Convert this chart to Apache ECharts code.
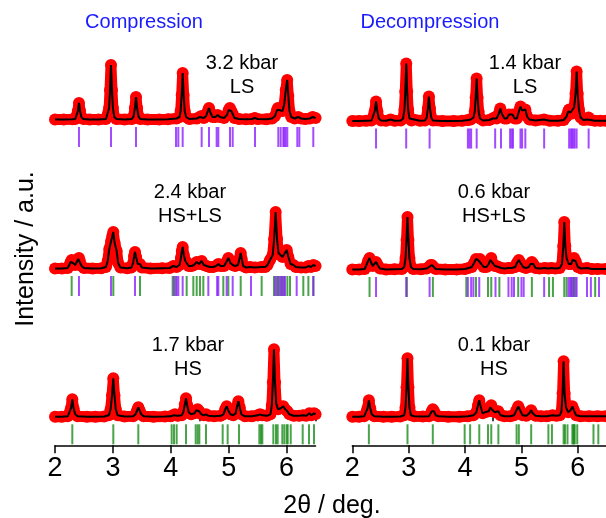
<!DOCTYPE html>
<html>
<head>
<meta charset="utf-8">
<script src="https://cdn.jsdelivr.net/npm/echarts@6/dist/echarts.min.js"></script>
<style>
  html, body { margin: 0; padding: 0; background: #fff; }
  #chart { width: 606px; height: 518px; }
</style>
</head>
<body>
<div id="chart"></div>
<script>
// 2theta (deg) / intensity (arb. units above baseline)
var cmp32 = [[2.00,0.5],[2.15,0.5],[2.30,0.8],[2.35,1],[2.375,3],[2.395,9],[2.414,17],[2.433,9],[2.455,3],[2.49,1],
  [2.60,0.5],[2.75,0.6],[2.88,1],[2.91,3],[2.935,12],[2.95,30],[2.967,55],[2.984,30],[3.00,12],[3.025,3],[3.06,1],
  [3.20,0.6],[3.33,1],[3.36,4],[3.38,12],[3.399,23],[3.418,12],[3.44,4],[3.47,1],
  [3.60,0.5],[3.80,0.6],[3.95,0.8],[4.10,1.5],[4.15,3],[4.17,9],[4.188,25],[4.205,47],[4.222,25],[4.24,9],[4.265,3],[4.32,1],
  [4.45,1.5],[4.50,3],[4.53,4],[4.57,2],[4.61,4],[4.64,9],[4.66,12],[4.68,8],[4.72,3],[4.77,3],[4.81,5],[4.85,3],[4.92,2],
  [4.97,5],[5.00,10],[5.02,12],[5.045,9],[5.07,6],[5.10,2],[5.18,1],[5.30,0.8],[5.40,1],[5.45,2],[5.50,1],[5.65,0.8],
  [5.75,1.5],[5.80,4],[5.835,10],[5.85,12],[5.87,10],[5.90,9],[5.93,9],[5.96,16],[5.985,30],[6.01,40],[6.03,24],[6.05,9],
  [6.08,3],[6.14,1.5],[6.20,3],[6.25,1.5],[6.32,1],[6.40,1.5],[6.45,3],[6.5,2]];
var cmp24 = [[2.00,0.5],[2.12,0.5],[2.22,1],[2.25,3],[2.27,7],[2.288,9],[2.31,6],[2.35,4],[2.38,6],[2.40,10],[2.414,11],
  [2.43,8],[2.46,3],[2.50,1],[2.65,0.5],[2.80,0.8],[2.88,2],[2.91,8],[2.938,20],[2.97,28],[2.99,33],[3.007,37],[3.03,26],
  [3.065,18],[3.09,6],[3.13,1.5],[3.25,0.8],[3.32,1.5],[3.35,6],[3.366,13],[3.382,17],[3.40,12],[3.43,5],[3.468,5],[3.50,1.5],
  [3.65,0.5],[3.85,0.8],[3.98,1],[4.043,3],[4.10,2],[4.15,4],[4.175,11],[4.19,18],[4.205,22],[4.225,14],[4.25,8],[4.274,7],
  [4.31,3],[4.36,3],[4.40,4],[4.447,7],[4.49,5],[4.533,8],[4.57,4],[4.62,3],[4.67,2],[4.73,2],[4.78,3],[4.821,5],[4.86,3],
  [4.92,3],[4.96,7],[4.994,11],[5.03,6],[5.069,4],[5.11,3],[5.16,4],[5.185,10],[5.207,16],[5.225,10],[5.25,3],[5.30,1.5],
  [5.367,2],[5.45,1.5],[5.569,2],[5.63,2],[5.67,4],[5.713,9],[5.76,14],[5.785,30],[5.811,57],[5.835,30],[5.86,16],[5.886,14],
  [5.93,12],[5.97,16],[6.002,19],[6.03,12],[6.07,5],[6.117,4],[6.16,2],[6.25,1.5],[6.33,1.5],[6.376,3],[6.42,2],[6.462,4],[6.5,3]];
var cmp17 = [[2.00,0.5],[2.12,0.5],[2.22,1],[2.25,3],[2.275,9],[2.299,18],[2.32,9],[2.35,3],[2.39,1],[2.55,0.5],[2.70,0.5],
  [2.85,0.8],[2.93,2],[2.96,8],[2.985,22],[3.007,39],[3.027,22],[3.05,8],[3.08,2],[3.20,0.8],[3.35,1],[3.39,3],[3.418,7],
  [3.439,10],[3.46,7],[3.49,3],[3.53,1],[3.70,0.5],[3.90,0.8],[4.00,1],[4.04,2],[4.072,3],[4.12,1.5],[4.19,2],[4.22,6],
  [4.243,13],[4.263,19],[4.283,12],[4.31,5],[4.35,3],[4.41,4],[4.44,7],[4.464,8],[4.49,6],[4.53,3],[4.57,2],[4.608,3],
  [4.65,1.5],[4.75,1],[4.86,1.5],[4.91,3],[4.94,8],[4.965,11],[4.99,7],[5.03,3],[5.08,2],[5.12,4],[5.145,11],[5.167,16],
  [5.19,10],[5.22,3],[5.28,1],[5.40,1],[5.50,2],[5.541,3],[5.58,2],[5.66,1.5],[5.72,3],[5.745,12],[5.763,35],[5.782,68],
  [5.80,35],[5.82,14],[5.85,8],[5.90,9],[5.943,11],[5.975,8],[6.013,6],[6.05,3],[6.12,1.5],[6.22,1.5],[6.289,2],[6.34,1.5],
  [6.393,4],[6.43,2],[6.474,4],[6.5,3]];
var dec14 = [[2.00,0.5],[2.12,0.5],[2.25,0.8],[2.34,1],[2.37,3],[2.397,10],[2.421,20],[2.445,10],[2.47,3],[2.51,1],[2.60,0.8],
  [2.68,2],[2.75,0.8],[2.86,1],[2.90,3],[2.925,12],[2.94,30],[2.957,58],[2.974,30],[2.99,12],[3.015,3],[3.05,1],[3.20,0.8],
  [3.29,1],[3.32,4],[3.34,13],[3.359,25],[3.378,13],[3.40,4],[3.43,1],[3.60,0.5],[3.80,0.6],[3.95,0.8],[4.05,1.5],[4.10,2],
  [4.15,4],[4.172,10],[4.188,24],[4.205,43],[4.222,24],[4.24,10],[4.265,3],[4.32,1],[4.43,1.5],[4.49,3],[4.52,4],[4.56,3],
  [4.60,8],[4.625,13],[4.65,8],[4.70,3],[4.74,3],[4.78,7],[4.81,5],[4.84,7],[4.88,3],[4.92,3],[4.955,10],[4.983,15],[5.01,11],
  [5.04,10],[5.069,12],[5.10,5],[5.14,2],[5.25,1],[5.40,2],[5.50,0.8],[5.65,0.8],[5.75,1.5],[5.80,5],[5.83,10],[5.846,12],
  [5.87,9],[5.90,8],[5.935,14],[5.96,28],[5.979,50],[5.997,28],[6.02,12],[6.05,4],[6.10,1.5],[6.16,2],[6.19,4],[6.23,1.5],
  [6.30,0.8],[6.40,0.8],[6.5,0.8]];
var dec06 = [[2.00,0.5],[2.12,0.5],[2.22,1],[2.25,3],[2.28,9],[2.306,12],[2.33,8],[2.36,4],[2.39,6],[2.421,8],[2.45,5],
  [2.49,1.5],[2.60,0.5],[2.75,0.8],[2.88,1],[2.92,3],[2.945,12],[2.962,30],[2.979,53],[2.996,30],[3.013,12],[3.04,3],[3.08,1],
  [3.22,0.8],[3.32,1.5],[3.36,3],[3.39,5],[3.411,5],[3.44,3],[3.48,1],[3.65,0.5],[3.85,0.6],[4.00,1],[4.06,2],[4.12,3],
  [4.16,7],[4.194,11],[4.23,10],[4.263,11],[4.29,6],[4.33,3],[4.38,3],[4.42,6],[4.445,10],[4.465,12],[4.49,7],[4.53,4],
  [4.56,4],[4.597,3],[4.64,2],[4.70,1.5],[4.77,2],[4.83,2],[4.89,3],[4.92,7],[4.954,10],[4.985,7],[5.03,3],[5.08,2],[5.13,3],
  [5.16,6],[5.185,8],[5.21,6],[5.25,2],[5.32,1.5],[5.415,2],[5.48,1.5],[5.53,2],[5.60,1.5],[5.68,2],[5.72,6],[5.742,24],
  [5.76,48],[5.778,24],[5.80,12],[5.84,6],[5.88,6],[5.91,10],[5.933,12],[5.96,9],[6.00,3],[6.06,1.5],[6.163,2],[6.25,1],
  [6.35,1],[6.5,1]];
var dec01 = [[2.00,0.5],[2.12,0.5],[2.21,1],[2.245,3],[2.27,9],[2.294,17],[2.318,9],[2.345,3],[2.39,1],[2.55,0.5],[2.70,0.5],
  [2.85,0.8],[2.92,2],[2.945,10],[2.962,30],[2.979,59],[2.996,30],[3.013,10],[3.04,2],[3.10,1],[3.25,0.8],[3.36,1],[3.39,3],
  [3.41,6],[3.428,8],[3.45,6],[3.48,2],[3.53,1],[3.70,0.5],[3.90,0.6],[4.05,1],[4.15,2],[4.20,5],[4.23,12],[4.252,17],
  [4.275,11],[4.31,4],[4.35,5],[4.38,6],[4.42,6],[4.445,10],[4.465,12],[4.49,7],[4.53,5],[4.56,6],[4.59,6],[4.63,2],[4.70,1],
  [4.80,1],[4.87,2],[4.91,7],[4.943,11],[4.975,7],[5.02,2],[5.09,1.5],[5.14,4],[5.173,7],[5.20,4],[5.25,1.5],[5.35,1],
  [5.45,1],[5.55,2],[5.62,1.5],[5.68,2],[5.71,6],[5.73,24],[5.748,56],[5.766,24],[5.79,10],[5.83,5],[5.87,7],[5.903,11],
  [5.93,7],[5.97,2],[6.05,1],[6.2,1],[6.35,1],[6.5,1]];

// reflection positions (2theta)
var cmp32LS = [2.414,2.967,3.399,4.090,4.130,4.205,4.533,4.660,4.792,4.821,5.022,5.069,5.454,5.857,5.898,5.943,5.961,5.984,6.012,6.185,6.220,6.461];
var cmp24LS = [2.414,2.967,3.382,4.055,4.101,4.130,4.205,4.648,4.800,4.821,4.965,5.069,5.385,5.806,5.852,5.898,5.932,5.972,6.174,6.462];
var cmp24HS = [2.288,3.007,3.468,4.032,4.084,4.274,4.389,4.447,4.504,4.562,4.907,4.994,5.207,5.569,5.782,5.829,5.874,5.915,5.955,6.013,6.059,6.289,6.376,6.462];
var cmp17HS = [2.299,3.007,3.439,4.015,4.055,4.101,4.263,4.430,4.464,4.493,4.608,4.896,4.982,5.178,5.529,5.558,5.581,5.771,5.817,5.846,5.926,5.961,6.002,6.019,6.071,6.278,6.387,6.473];
var dec14LS = [2.421,2.956,3.371,4.050,4.079,4.108,4.206,4.534,4.638,4.799,4.827,4.850,4.983,5.012,5.069,5.403,5.846,5.876,5.898,5.922,5.945,5.979,6.192];
var dec06LS = [2.421,2.956,3.371,4.050,4.108,4.148,4.252,4.540,4.770,4.827,4.868,5.000,5.040,5.403,5.835,5.864,5.893,5.933,5.979,6.163,6.232,6.376];
var dec06HS = [2.306,2.968,3.429,4.022,4.194,4.407,4.465,4.609,4.943,5.185,5.490,5.559,5.760,5.801,5.887,5.922,5.962,6.308];
var dec01HS = [2.294,2.979,3.428,3.993,4.090,4.252,4.407,4.465,4.591,4.914,4.954,5.173,5.478,5.541,5.748,5.773,5.817,5.903,5.921,5.933,5.945,5.990,6.278,6.364];

var majorTicks = [2, 3, 4, 5, 6];
var minorTicks = [2.5, 3.5, 4.5, 5.5, 6.5];
var pressures = ['3.2 kbar', '2.4 kbar', '1.7 kbar', '1.4 kbar', '0.6 kbar', '0.1 kbar'];
var states = ['LS', 'HS+LS', 'HS', 'LS', 'HS+LS', 'HS'];

var panels = [
  { obs: cmp32, ls: cmp32LS, hs: [],      col: 0, base: 120,   lx: 242, ly: 63 },
  { obs: cmp24, ls: cmp24LS, hs: cmp24HS, col: 0, base: 269,   lx: 190, ly: 192 },
  { obs: cmp17, ls: [],      hs: cmp17HS, col: 0, base: 417.3, lx: 188, ly: 345 },
  { obs: dec14, ls: dec14LS, hs: [],      col: 1, base: 121.5, lx: 525, ly: 63 },
  { obs: dec06, ls: dec06LS, hs: dec06HS, col: 1, base: 270,   lx: 494, ly: 192 },
  { obs: dec01, ls: [],      hs: dec01HS, col: 1, base: 417.3, lx: 494, ly: 345 }
];

var colLeft = [55, 352.3];
var pxPerDeg = 57.9;
var yMax = 90, yMin = -28;
var FONT = '"Liberation Sans", Arial, Helvetica, sans-serif';

var grids = [], xAxes = [], yAxes = [], series = [], graphics = [];

panels.forEach(function (p, i) {
  var isBottom = (i === 2 || i === 5);
  grids.push({ left: colLeft[p.col], top: p.base - yMax, width: 4.5 * pxPerDeg, height: yMax - yMin });
  xAxes.push({
    gridIndex: i, type: 'value', min: 2, max: 6.5, show: isBottom,
    axisLine: { show: true, onZero: false, lineStyle: { color: '#000', width: 1.5 } },
    axisTick: { show: true, inside: false, length: 8, customValues: majorTicks, lineStyle: { color: '#000', width: 1.5 } },
    axisLabel: { customValues: majorTicks, color: '#000', fontSize: 27, fontFamily: FONT, margin: 10 },
    splitLine: { show: false }
  });
  yAxes.push({ gridIndex: i, type: 'value', min: yMin, max: yMax, show: false, splitLine: { show: false } });

  // observed (red dots)
  series.push({
    type: 'line', xAxisIndex: i, yAxisIndex: i, data: p.obs,
    symbol: 'circle', symbolSize: 12, showAllSymbol: true,
    itemStyle: { color: '#ff0000' },
    lineStyle: { color: '#ff0000', width: 11 },
    z: 2, silent: true
  });
  // fit (black line)
  series.push({
    type: 'line', xAxisIndex: i, yAxisIndex: i, data: p.obs,
    showSymbol: false, lineStyle: { color: '#000', width: 2 }, z: 3, silent: true
  });
  // reflection ticks
  if (p.hs.length) {
    series.push({
      type: 'scatter', xAxisIndex: i, yAxisIndex: i,
      data: p.hs.map(function (x) { return [x, -17]; }),
      symbol: 'rect', symbolSize: [2, 20], itemStyle: { color: '#1c8c1c' }, z: 4, silent: true
    });
  }
  if (p.ls.length) {
    series.push({
      type: 'scatter', xAxisIndex: i, yAxisIndex: i,
      data: p.ls.map(function (x) { return [x, -17]; }),
      symbol: 'rect', symbolSize: [2, 20], itemStyle: { color: '#8c1eff' }, z: 4, silent: true
    });
  }

  graphics.push({ type: 'text', x: p.lx, y: p.ly, style: { text: pressures[i], font: '20px ' + FONT, fill: '#000', align: 'center', verticalAlign: 'middle' } });
  graphics.push({ type: 'text', x: p.lx, y: p.ly + 24, style: { text: states[i], font: '20px ' + FONT, fill: '#000', align: 'center', verticalAlign: 'middle' } });
});

// minor ticks on the two bottom axes
[2, 5].forEach(function (gi) {
  xAxes.push({
    gridIndex: gi, type: 'value', min: 2, max: 6.5, position: 'bottom',
    axisLine: { show: false },
    axisTick: { show: true, inside: false, length: 4, customValues: minorTicks, lineStyle: { color: '#000', width: 1.5 } },
    axisLabel: { show: false }, splitLine: { show: false }
  });
});

graphics.push({ type: 'text', x: 144, y: 22, style: { text: 'Compression', font: '20px ' + FONT, fill: '#1a1aff', align: 'center', verticalAlign: 'middle' } });
graphics.push({ type: 'text', x: 430, y: 22, style: { text: 'Decompression', font: '20px ' + FONT, fill: '#1a1aff', align: 'center', verticalAlign: 'middle' } });
graphics.push({ type: 'text', x: 332, y: 506, style: { text: '2θ / deg.', font: '25px ' + FONT, fill: '#000', align: 'center', verticalAlign: 'middle' } });
graphics.push({ type: 'text', x: 26, y: 249, rotation: Math.PI / 2, style: { text: 'Intensity / a.u.', font: '25px ' + FONT, fill: '#000', align: 'center', verticalAlign: 'middle' } });

var chart = echarts.init(document.getElementById('chart'), null, { renderer: 'canvas' });
chart.setOption({
  animation: false,
  backgroundColor: '#fff',
  grid: grids,
  xAxis: xAxes,
  yAxis: yAxes,
  series: series,
  graphic: graphics
});
</script>
</body>
</html>
